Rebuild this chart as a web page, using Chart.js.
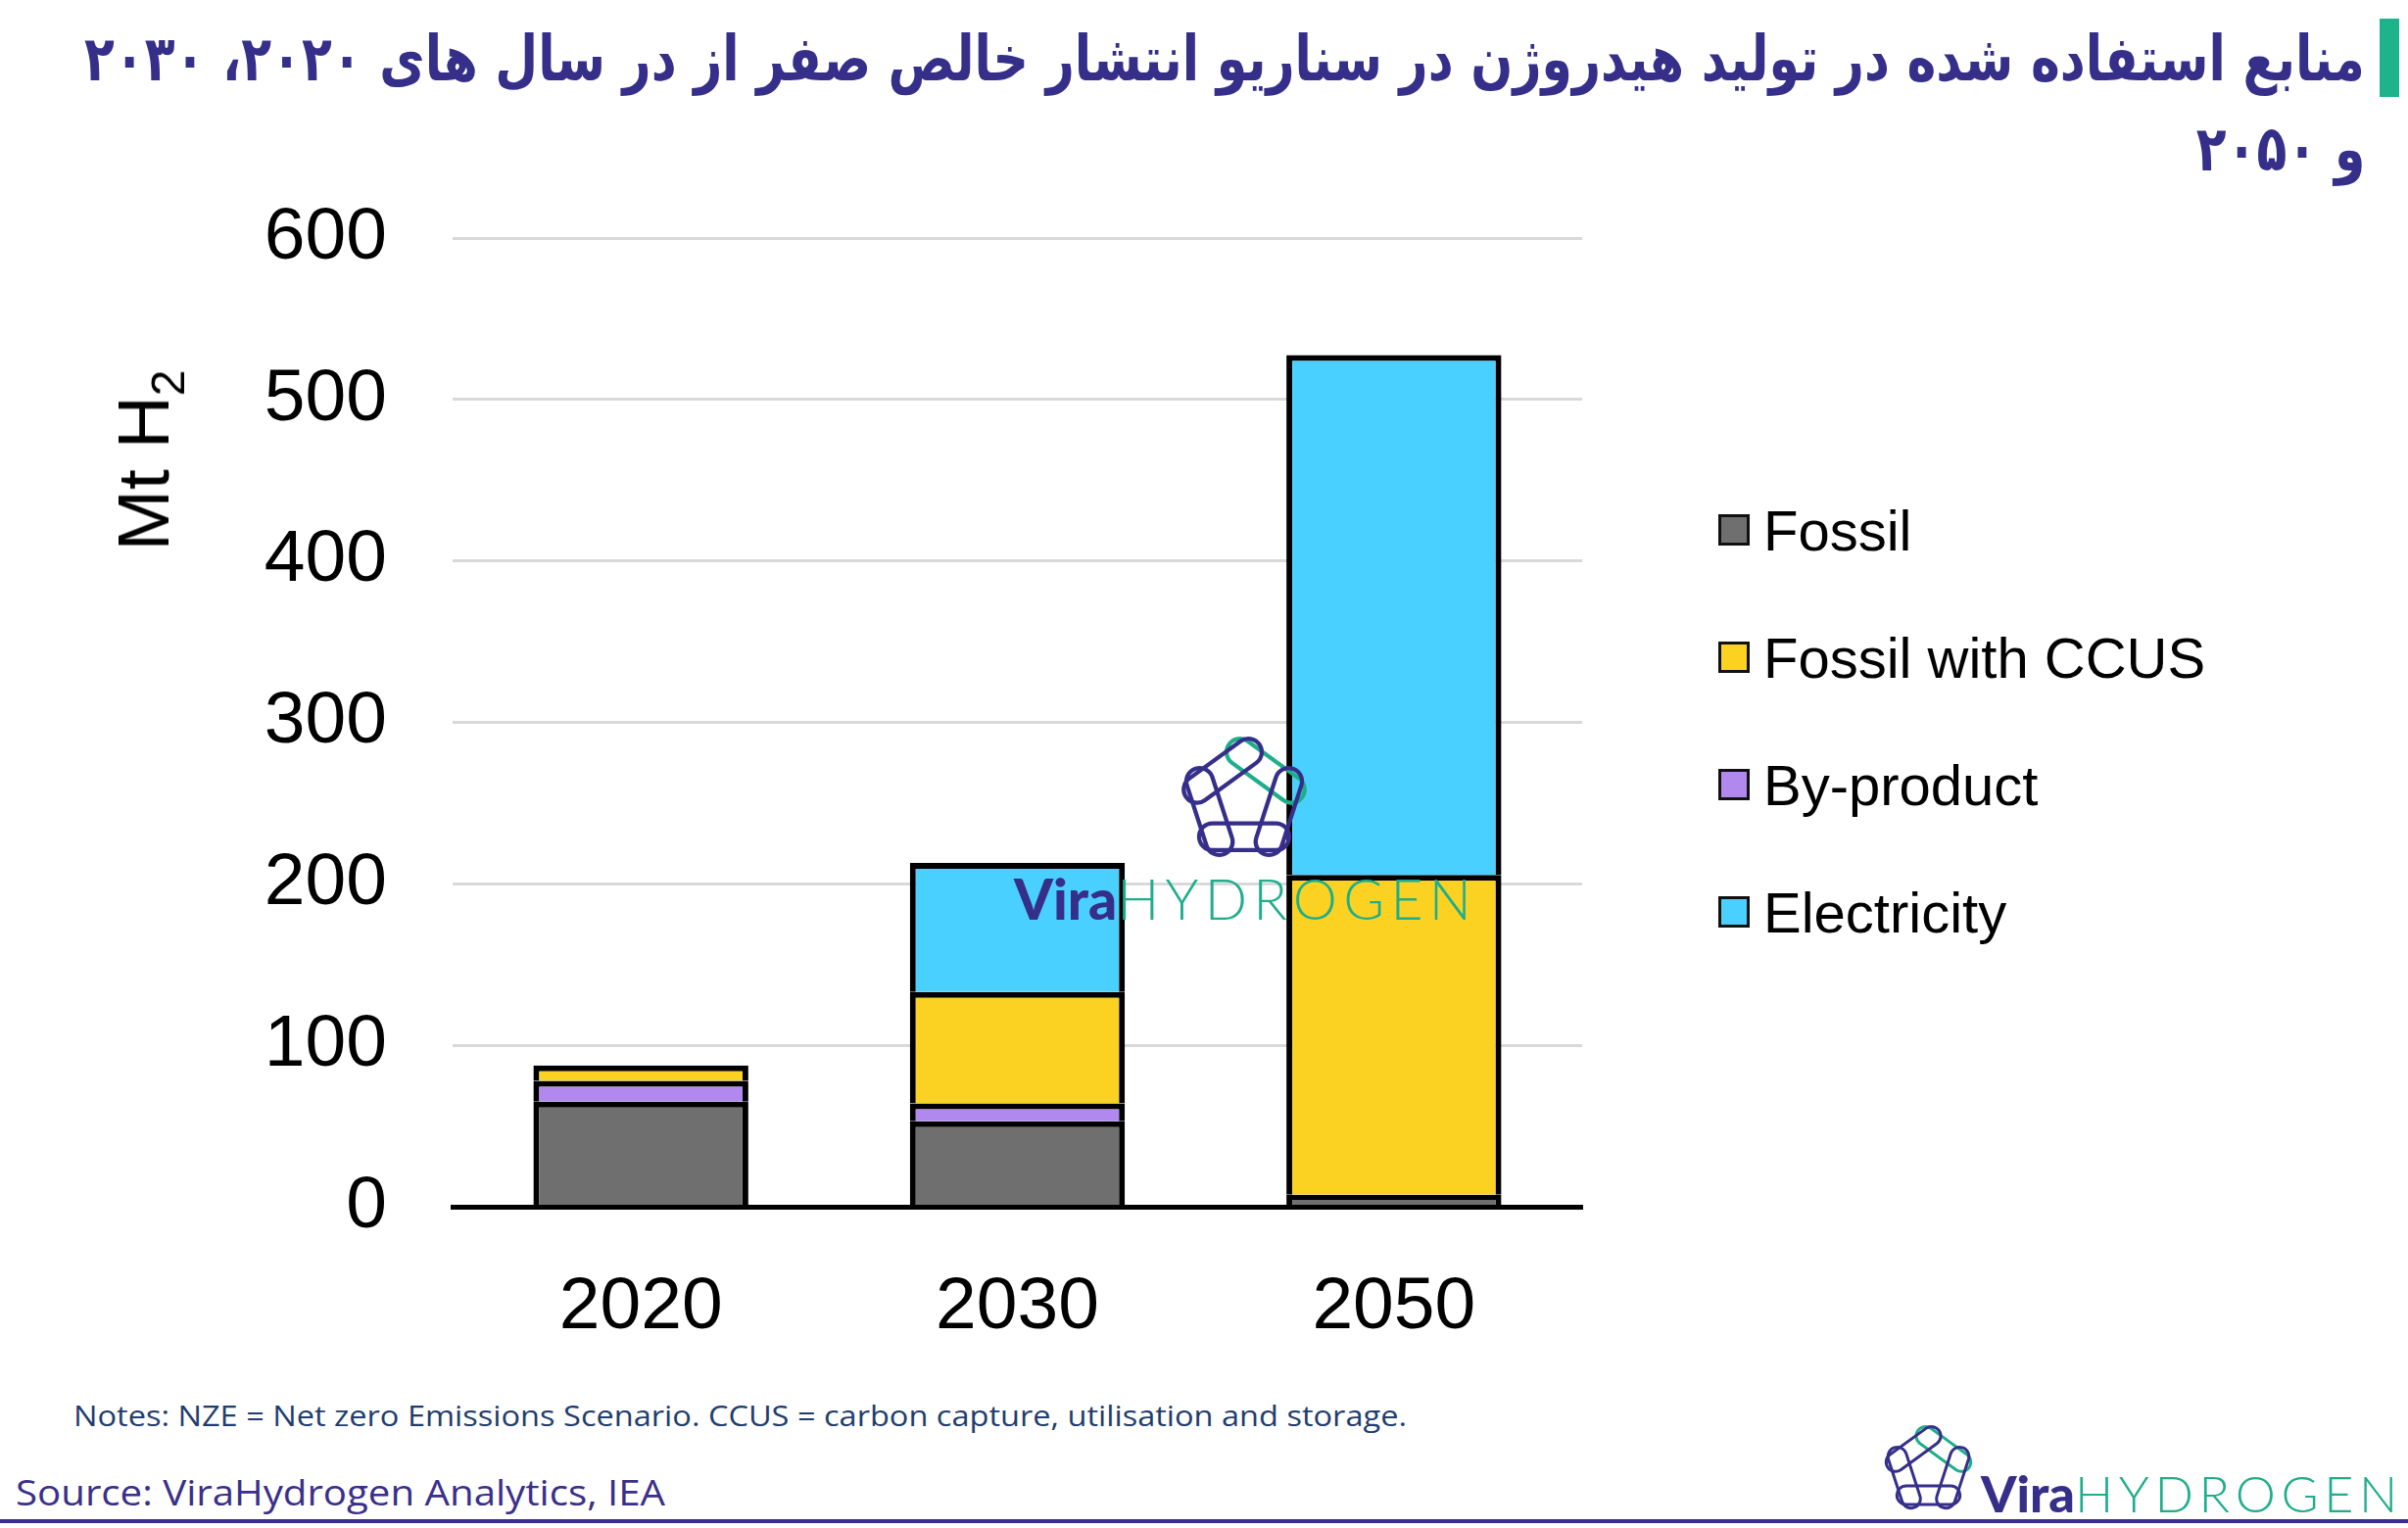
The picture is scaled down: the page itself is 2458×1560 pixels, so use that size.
<!DOCTYPE html>
<html lang="fa">
<head>
<meta charset="utf-8">
<script src="https://cdn.jsdelivr.net/npm/chart.js@4.4.1/dist/chart.umd.min.js"></script>
<style>
  html, body { margin: 0; padding: 0; background: #fff; }
  #page { position: relative; width: 2458px; height: 1560px; overflow: hidden; background: #fff; font-family: "Liberation Sans", Arial, sans-serif; }
  #chart { position: absolute; left: 0; top: 0; }
  .tline { position: absolute; right: 44px; direction: rtl; white-space: nowrap; color: #352f8a;
           font-family: "DejaVu Sans", "Noto Sans", sans-serif; font-weight: bold; font-size: 64px; line-height: 92px;
           transform-origin: right center; }
  #accent { position: absolute; left: 2429px; top: 19px; width: 20px; height: 80px; background: #1db38b; }
  #ytitle { position: absolute; left: 146px; top: 470px; transform: translate(-50%, -50%) rotate(-90deg);
            font-size: 75px; line-height: 80px; white-space: nowrap; color: #000; }
  #ytitle sub { font-size: 48px; vertical-align: -16px; line-height: 0; }
  .item { position: absolute; left: 1754px; height: 70px; display: flex; align-items: center; font-size: 58px; color: #000; white-space: nowrap; }
  .box { width: 26px; height: 26px; border: 3px solid #111; margin-right: 14px; flex: none; }
  .foot { position: absolute; white-space: nowrap; font-family: "Open Sans", sans-serif; transform-origin: left center; }
  #notes { left: 75px; top: 1425px; font-size: 30px; line-height: 40px; color: #1f3d6e; }
  #source { left: 16px; top: 1502px; font-size: 36px; line-height: 44px; color: #3a2f8a; }
  #rule { position: absolute; left: 0; top: 1551px; width: 2458px; height: 4px; background: #3a2f8a; }
  .logo { position: absolute; }
  .brand { position: absolute; white-space: nowrap; font-family: Lato, "Open Sans", sans-serif; line-height: 1; }
  .brand .vira { font-weight: 900; color: #352f8a; }
  .brand .hyd { font-weight: 300; color: #1fae8b; }
</style>
</head>
<body>
<div id="page">
  <canvas id="chart" width="1700" height="1420"></canvas>

  <div class="tline" id="t1" style="top:14px">منابع استفاده شده در تولید هیدروژن در سناریو انتشار خالص صفر از در سال های ۲۰۲۰، ۲۰۳۰</div>
  <div class="tline" id="t2" style="top:106px">و ۲۰۵۰</div>
  <div id="accent"></div>

  <div id="ytitle">Mt H<sub>2</sub></div>
  <div id="legend"></div>

  <div class="foot" id="notes">Notes: NZE = Net zero Emissions Scenario. CCUS = carbon capture, utilisation and storage.</div>
  <div class="foot" id="source">Source: ViraHydrogen Analytics, IEA</div>
  <div id="rule"></div>

  <div id="marks"></div>
</div>

<script>
// data
const years = ["2020", "2030", "2050"];
const fossil = [65, 53, 7.5];
const byProduct = [13, 11, 0];
const fossilCcus = [9.5, 69, 198];
const electricity = [0, 80, 322];
const yTicks = [0, 100, 200, 300, 400, 500, 600];

// stacking order bottom -> top
const seriesNames = ["Fossil", "By-product", "Fossil with CCUS", "Electricity"];
const seriesValues = [fossil, byProduct, fossilCcus, electricity];
const seriesColors = ["#6f6f6f", "#b088ee", "#fcd222", "#4ad0fe"];
const legendOrder = [0, 2, 1, 3];

const font = "'Liberation Sans', Arial, sans-serif";

// chart
const datasets = seriesNames.map((name, i) => ({
  label: name,
  data: seriesValues[i],
  backgroundColor: seriesColors[i],
  borderColor: "#000",
  borderWidth: 6,
  borderSkipped: "start",
  barPercentage: 0.571,
  categoryPercentage: 1
}));

new Chart(document.getElementById("chart"), {
  type: "bar",
  data: { labels: years, datasets },
  options: {
    responsive: false,
    animation: false,
    layout: { padding: { top: 243, right: 85, left: 0, bottom: 0 } },
    plugins: { legend: { display: false }, tooltip: { enabled: false } },
    scales: {
      x: {
        stacked: true,
        grid: { display: false },
        border: { display: true, color: "#000", width: 5, z: 1 },
        ticks: { color: "#000", font: { family: font, size: 75 }, padding: 50 },
        afterFit: s => { s.height = 188; }
      },
      y: {
        stacked: true,
        min: 0,
        max: 600,
        afterBuildTicks: s => { s.ticks = yTicks.map(v => ({ value: v })); },
        grid: {
          color: c => (c.tick && c.tick.value === 0) ? "#000" : "#d9d9d9",
          lineWidth: 3,
          drawTicks: false
        },
        border: { display: false },
        ticks: { color: "#000", font: { family: font, size: 75 }, padding: 67 },
        afterFit: s => { s.width = 462; }
      }
    }
  }
});

// legend
const legend = document.getElementById("legend");
legendOrder.forEach((idx, n) => {
  const el = document.createElement("div");
  el.className = "item";
  el.style.top = (541 + n * 130 - 35) + "px";
  el.innerHTML = `<span class="box" style="background:${seriesColors[idx]}"></span><span>${seriesNames[idx]}</span>`;
  legend.appendChild(el);
});

// logo rings
function rings(size) {
  const R = 54, L = 108, W = 32;
  let g = "";
  for (let k = 0; k < 5; k++) {
    const mid = -54 + 72 * k;
    const r = R * Math.cos(Math.PI / 5);
    const cx = r * Math.cos(mid * Math.PI / 180);
    const cy = r * Math.sin(mid * Math.PI / 180);
    const col = k === 0 ? "#1fae8b" : "#352f8a";
    g += `<rect x="${-L / 2}" y="${-W / 2}" width="${L}" height="${W}" rx="${W / 2}" fill="none" stroke="${col}" stroke-width="5"
          transform="translate(${cx.toFixed(2)} ${cy.toFixed(2)}) rotate(${mid + 90})"/>`;
  }
  return `<svg width="${size}" height="${size}" viewBox="-88 -88 176 176">${g}</svg>`;
}

function addLogo(cx, cy, size) {
  const d = document.createElement("div");
  d.className = "logo";
  d.style.left = (cx - size / 2) + "px";
  d.style.top = (cy - size / 2) + "px";
  d.innerHTML = rings(size);
  document.getElementById("marks").appendChild(d);
}

function addBrand(left, top, fs, right) {
  const d = document.createElement("div");
  d.className = "brand";
  d.style.left = left + "px";
  d.style.top = top + "px";
  d.style.fontSize = fs + "px";
  d.innerHTML = `<span class="vira">Vira</span><span class="hyd">HYDROGEN</span>`;
  document.getElementById("marks").appendChild(d);
  const h = d.querySelector(".hyd");
  const extra = right - d.getBoundingClientRect().right;
  h.style.letterSpacing = (extra / 8) + "px";
}

addLogo(1270, 817, 150);
addBrand(1035, 889, 57, 1508);
addLogo(1968, 1500, 105);
addBrand(2022, 1498, 52, 2453);

// fit text widths
function fitX(el, target) {
  const w = el.getBoundingClientRect().width;
  return target / w;
}
const t1 = document.getElementById("t1");
const t2 = document.getElementById("t2");
const sT = fitX(t1, 2328);
t1.style.transform = `scaleX(${sT})`;
t2.style.transform = `scaleX(${sT})`;
const notes = document.getElementById("notes");
notes.style.transform = `scaleX(${fitX(notes, 1361)})`;
const source = document.getElementById("source");
source.style.transform = `scaleX(${fitX(source, 663)})`;
</script>
</body>
</html>
